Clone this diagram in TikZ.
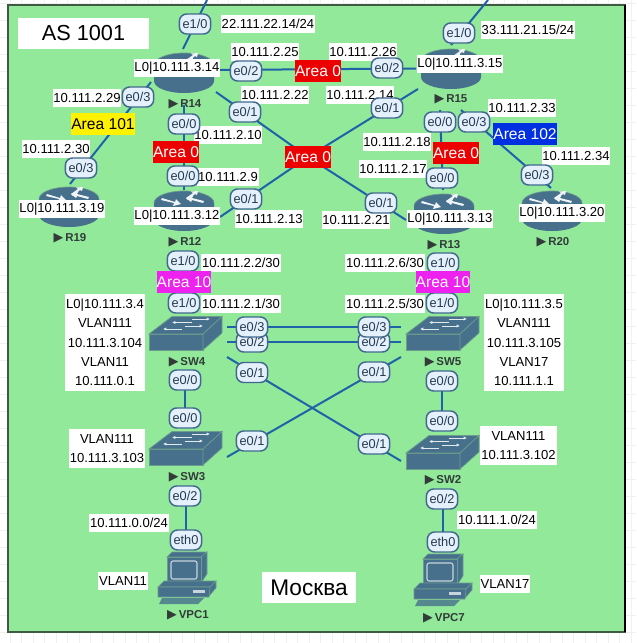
\documentclass[tikz,border=0pt]{standalone}
\usepackage{fontspec}
\setmainfont{Liberation Sans}
\newfontfamily\symfont{DejaVu Sans}
\definecolor{bgreen}{HTML}{92E99A}
\definecolor{bedge}{HTML}{3F5A42}
\definecolor{devblue}{HTML}{47708D}
\definecolor{devedge}{HTML}{6C9C8C}
\definecolor{linkblue}{HTML}{1F62A8}
\definecolor{portfill}{HTML}{E4F0FB}
\definecolor{portedge}{HTML}{41698F}
\definecolor{porttext}{HTML}{253A4E}
\definecolor{gridgrey}{HTML}{F0F0F0}
\definecolor{devtext}{HTML}{333B3A}
\definecolor{areared}{HTML}{EC0000}
\definecolor{areamag}{HTML}{EE22EE}
\definecolor{areablue}{HTML}{0030E0}
\newcommand{\tri}{{\normalfont\symfont\fontsize{9.5}{10}\selectfont ▶}\,}
\tikzset{
  x=0.75pt,y=-0.75pt,
  link/.style={draw=linkblue,line width=1.5pt},
  hub/.style={inner sep=0pt,minimum size=1pt},
  lab/.style={fill=white,inner xsep=0.6pt,inner ysep=0pt,minimum height=13.5pt,text=black,font=\fontsize{9.8}{14.4}\selectfont},
  block/.style={fill=white,inner xsep=0pt,inner ysep=0pt,align=center,text=black,font=\fontsize{9.8}{14.4}\selectfont},
  port/.style={draw=portedge,fill=portfill,line width=1.1pt,rounded corners=5.5pt,inner xsep=2pt,inner ysep=0pt,minimum height=15pt,minimum width=23.5pt,text=porttext,font=\fontsize{9.6}{10}\selectfont},
  area/.style={inner xsep=0pt,inner ysep=0pt,minimum height=16.5pt,text=white,font=\fontsize{11.7}{13}\selectfont},
  devname/.style={inner sep=0pt,text=devtext,font=\fontsize{8.6}{10}\selectfont\bfseries},
  bigbox/.style={fill=white,inner sep=0pt,text=black},
  routericon/.pic={
    \fill[devblue] (-30,-8) -- (30,-8) -- (30,8) arc[start angle=0,end angle=180,x radius=30,y radius=12] -- cycle;
    \fill[devblue] (0,-8) ellipse[x radius=30,y radius=12];
    \draw[devedge,line width=0.5pt] (-30,-8) arc[start angle=180,end angle=360,x radius=30,y radius=12];
    \fill[white!92!devblue] (-22,-13) -- (-9,-9) -- (-8,-12) -- (-3,-7) -- (-11,-5) -- (-10,-8) -- (-23,-11) -- cycle;
    \fill[white!92!devblue] (2,-13) -- (9,-18) -- (7,-19.5) -- (14,-20) -- (13,-16) -- (11,-17) -- (4,-11) -- cycle;
    \fill[white!92!devblue] (20,-10) -- (8,-13) -- (9,-15) -- (2,-13) -- (7,-9) -- (8,-11) -- (19,-8) -- cycle;
  },
  switchicon/.pic={
    \fill[devblue,draw=devedge,line width=0.5pt] (-36,1) -- (18,1) -- (18,17) -- (-36,17) -- cycle;
    \fill[devblue,draw=devedge,line width=0.5pt] (-36,1) -- (-13,-16.5) -- (37,-16.5) -- (18,1) -- cycle;
    \fill[devblue,draw=devedge,line width=0.5pt] (18,1) -- (37,-16.5) -- (37,0) -- (18,17) -- cycle;
    \foreach \xa/\xb/\oy in {7/25/-14,7/-13/-10.5,0/18/-7,-3/-22/-4}{
      \draw[white!85!devblue,line width=0.6pt,-{Latex[length=2.5pt,width=2.5pt]}] (\xa,\oy) -- (\xb,\oy);
    }
  },
  pcicon/.pic={
    \fill[devblue,draw=devedge,line width=0.4pt] (-20,-23) -- (-15,-28) -- (20,-28) -- (14,-23) -- cycle;
    \fill[devblue,draw=devedge,line width=0.4pt] (14,-23) -- (20,-28) -- (20,-6) -- (14,3) -- cycle;
    \fill[devblue,draw=devedge,line width=0.4pt] (-20,-23) -- (14,-23) -- (14,3) -- (-20,3) -- cycle;
    \draw[white!70!devblue,line width=0.8pt,rounded corners=1.5pt] (-16,-19) rectangle (10,-1);
    \fill[devblue,draw=devedge,line width=0.4pt] (-29,7) -- (-23,1) -- (29,1) -- (23,7) -- cycle;
    \fill[devblue,draw=devedge,line width=0.4pt] (23,7) -- (29,1) -- (29,8) -- (22,16) -- cycle;
    \fill[devblue,draw=devedge,line width=0.4pt] (-29,7) -- (23,7) -- (22,17) -- (-29,17) -- cycle;
    \fill[white!70!devblue] (6,10) rectangle (18,12.5);
    \fill[devblue!80!bgreen] (-25,18) -- (17,18) -- (11,24) -- (-28,24) -- cycle;
  },
}
\usetikzlibrary{arrows.meta}
\begin{document}
\begin{tikzpicture}
\useasboundingbox (0,0) rectangle (636,643);
\fill[white] (0,0) rectangle (636,643);
% page grid
\foreach \gx in {10,21.5,...,636}{\draw[gridgrey,line width=0.5pt] (\gx,0) -- (\gx,643);}
\foreach \gy in {3,20,...,643}{\draw[gridgrey,line width=0.5pt] (0,\gy) -- (636,\gy);}
% area
\filldraw[fill=bgreen,draw=bedge,line width=1pt] (8,5) rectangle (625,632);
\draw[black,line width=1pt] (625,5) -- (625,632);
% device hubs
\node[hub] (r14) at (184,73) {};
\node[hub] (r15) at (451,69) {};
\node[hub] (r19) at (69,207) {};
\node[hub] (r12) at (184,211) {};
\node[hub] (r13) at (444,214) {};
\node[hub] (r20) at (552,211) {};
\node[hub] (sw4) at (185,333) {};
\node[hub] (sw5) at (442,333) {};
\node[hub] (sw3) at (185,448) {};
\node[hub] (sw2) at (442,452) {};
\node[hub] (vpc1) at (187,580) {};
\node[hub] (vpc7) at (443,582) {};
\node[hub] (acenter) at (308,157) {};
\coordinate (r14out) at (207,0);
\coordinate (r15out) at (488,0);
% connectors
\draw[link] ([shift={(-1,-24)}]r14.center) -- (r14out);
\draw[link] ([shift={(0,-24)}]r15.center) -- (r15out);
\draw[link] ([shift={(30,-3)}]r14.center) -- ([shift={(-35,-0.5)}]r15.center);
\draw[link] ([shift={(32,19)}]r14.center) -- (acenter.center);
\draw[link] ([shift={(-33,20)}]r15.center) -- (acenter.center);
\draw[link] ([shift={(36,6)}]r12.center) -- (acenter.center);
\draw[link] ([shift={(-38,6)}]r13.center) -- (acenter.center);
\draw[link] ([shift={(0,32)}]r14.center) -- ([shift={(0,-21)}]r12.center);
\draw[link] ([shift={(-11,41)}]r15.center) -- ([shift={(-1,-24)}]r13.center);
\draw[link] ([shift={(10,41)}]r15.center) -- ([shift={(-1,-23)}]r20.center);
\draw[link] ([shift={(-33,9)}]r14.center) -- ([shift={(1,-23)}]r19.center);
\draw[link] ([shift={(0,41)}]r12.center) -- ([shift={(0,-25)}]sw4.center);
\draw[link] ([shift={(-1,41)}]r13.center) -- ([shift={(0,-25)}]sw5.center);
\draw[link] ([shift={(42,-6)}]sw4.center) -- ([shift={(-41,-6)}]sw5.center);
\draw[link] ([shift={(42,9)}]sw4.center) -- ([shift={(-41,9)}]sw5.center);
\draw[link] ([shift={(42,24)}]sw4.center) -- ([shift={(-41,9)}]sw2.center);
\draw[link] ([shift={(42,9)}]sw3.center) -- ([shift={(-41,24)}]sw5.center);
\draw[link] ([shift={(0,40)}]sw4.center) -- ([shift={(0,-25)}]sw3.center);
\draw[link] ([shift={(0,40)}]sw5.center) -- ([shift={(0,-25)}]sw2.center);
\draw[link] ([shift={(1,40)}]sw3.center) -- ([shift={(-1,-45)}]vpc1.center);
\draw[link] ([shift={(1,40)}]sw2.center) -- ([shift={(0,-45)}]vpc7.center);
% icons
\pic at (r14) {routericon};
\pic at (r15) {routericon};
\pic at (r19) {routericon};
\pic at (r12) {routericon};
\pic at (r13) {routericon};
\pic at (r20) {routericon};
\pic at (sw4) {switchicon};
\pic at (sw5) {switchicon};
\pic at (sw3) {switchicon};
\pic at (sw2) {switchicon};
\pic at (vpc1) {pcicon};
\pic at (vpc7) {pcicon};
% device names
\node[devname] (nr14) at (185,104) {\tri R14};
\node[devname] (nr12) at (185,242) {\tri R12};
\node[devname] (nr19) at (70,238) {\tri R19};
\node[devname] (nr15) at (451,99) {\tri R15};
\node[devname] (nr13) at (444,245) {\tri R13};
\node[devname] (nr20) at (553,242) {\tri R20};
\node[devname] (nsw4) at (187,362) {\tri SW4};
\node[devname] (nsw5) at (443,362) {\tri SW5};
\node[devname] (nsw3) at (187,477) {\tri SW3};
\node[devname] (nsw2) at (443,480) {\tri SW2};
\node[devname] (nvpc1) at (188,615) {\tri VPC1};
\node[devname] (nvpc7) at (444,618) {\tri VPC7};
% white labels
\node[lab] (l1) at (268,24) {22.111.22.14/24};
\node[lab] (l2) at (265,52) {10.111.2.25};
\node[lab] (l3) at (177,68) {L0|10.111.3.14};
\node[lab] (l4) at (87,98) {10.111.2.29};
\node[lab] (l5) at (275,95) {10.111.2.22};
\node[lab] (l6) at (228,135) {10.111.2.10};
\node[lab] (l7) at (228,177) {10.111.2.9};
\node[lab] (l8) at (56,149) {10.111.2.30};
\node[lab] (l9) at (62,209) {L0|10.111.3.19};
\node[lab] (l10) at (177,216) {L0|10.111.3.12};
\node[lab] (l11) at (269,219) {10.111.2.13};
\node[lab] (l12) at (528,30) {33.111.21.15/24};
\node[lab] (l13) at (363,52) {10.111.2.26};
\node[lab] (l14) at (460,64) {L0|10.111.3.15};
\node[lab] (l15) at (360,95) {10.111.2.14};
\node[lab] (l16) at (522,108) {10.111.2.33};
\node[lab] (l17) at (397,142) {10.111.2.18};
\node[lab] (l18) at (393,169) {10.111.2.17};
\node[lab] (l19) at (576,156) {10.111.2.34};
\node[lab] (l20) at (356,220) {10.111.2.21};
\node[lab] (l21) at (450,219) {L0|10.111.3.13};
\node[lab] (l22) at (562,213) {L0|10.111.3.20};
\node[lab] (l23) at (241,263) {10.111.2.2/30};
\node[lab] (l24) at (241,304) {10.111.2.1/30};
\node[lab] (l25) at (385,263) {10.111.2.6/30};
\node[lab] (l26) at (385,304) {10.111.2.5/30};
\node[lab] (l27) at (497,520) {10.111.1.0/24};
\node[lab] (l28) at (129,523) {10.111.0.0/24};
\node[lab] (l29) at (123,581) {VLAN11};
\node[lab] (l30) at (505,584) {VLAN17};
\node[block,minimum width=60pt,minimum height=72.75pt] (b1) at (105,342.5) {L0|10.111.3.4\\VLAN111\\10.111.3.104\\VLAN11\\10.111.0.1};
\node[block,minimum width=60pt,minimum height=72.75pt] (b2) at (524,342.5) {L0|10.111.3.5\\VLAN111\\10.111.3.105\\VLAN17\\10.111.1.1};
\node[block,minimum width=57pt,minimum height=29.25pt] (b3) at (107,448.5) {VLAN111\\10.111.3.103};
\node[block,minimum width=57.75pt,minimum height=29.25pt] (b4) at (518.5,445.5) {VLAN111\\10.111.3.102};
% ports
\node[port] (p1) at (195,24) {e1/0};
\node[port] (p2) at (246,71) {e0/2};
\node[port] (p3) at (138,97) {e0/3};
\node[port] (p4) at (245,112) {e0/1};
\node[port] (p5) at (184,124) {e0/0};
\node[port] (p6) at (183,176) {e0/0};
\node[port] (p7) at (81,168) {e0/3};
\node[port] (p8) at (246,199) {e0/1};
\node[port] (p9) at (459,33) {e1/0};
\node[port] (p10) at (387,68) {e0/2};
\node[port] (p11) at (387,108) {e0/1};
\node[port] (p12) at (440,122) {e0/0};
\node[port] (p13) at (474,122) {e0/3};
\node[port] (p14) at (442,178) {e0/0};
\node[port] (p15) at (537,175) {e0/3};
\node[port] (p16) at (381,203) {e0/1};
\node[port] (p17) at (183,261) {e1/0};
\node[port] (p18) at (184,303) {e1/0};
\node[port] (p19) at (443,263) {e1/0};
\node[port] (p20) at (442,303) {e1/0};
\node[port] (p22) at (252,342) {e0/2};
\node[port] (p21) at (252,327) {e0/3};
\node[port] (p24) at (374,342) {e0/2};
\node[port] (p23) at (374,327) {e0/3};
\node[port] (p25) at (252,372.5) {e0/1};
\node[port] (p26) at (374,372) {e0/1};
\node[port] (p27) at (185,380) {e0/0};
\node[port] (p28) at (185,418) {e0/0};
\node[port] (p29) at (442,381) {e0/0};
\node[port] (p30) at (442,421) {e0/0};
\node[port] (p31) at (252,441) {e0/1};
\node[port] (p32) at (374,444) {e0/1};
\node[port] (p33) at (185,496) {e0/2};
\node[port] (p34) at (186,540) {eth0};
\node[port] (p35) at (442,499) {e0/2};
\node[port] (p36) at (443,542) {eth0};
% areas
\node[area,fill=areared] (a1) at (318,71) {Area 0};
\node[area,fill=areared] (a2) at (176,152) {Area 0};
\node[area,fill=areared] (a3) at (456,153) {Area 0};
\node[area,fill=areared] (a4) at (308,157) {Area 0};
\node[area,fill=yellow,text=black] (a5) at (103,124) {Area 101};
\node[area,fill=areablue] (a6) at (525,134) {Area 102};
\node[area,fill=areamag] (a7) at (184,282) {Area 10};
\node[area,fill=areamag] (a8) at (443,282) {Area 10};
% titles
\node[bigbox,minimum width=98.25pt,minimum height=23.25pt,font=\fontsize{16.3}{18}\selectfont] (as) at (83.5,33.5) {AS 1001};
\node[bigbox,minimum width=70.5pt,minimum height=23.25pt,font=\fontsize{17}{19}\selectfont] (city) at (309,587.5) {Москва};
\end{tikzpicture}
\end{document}
